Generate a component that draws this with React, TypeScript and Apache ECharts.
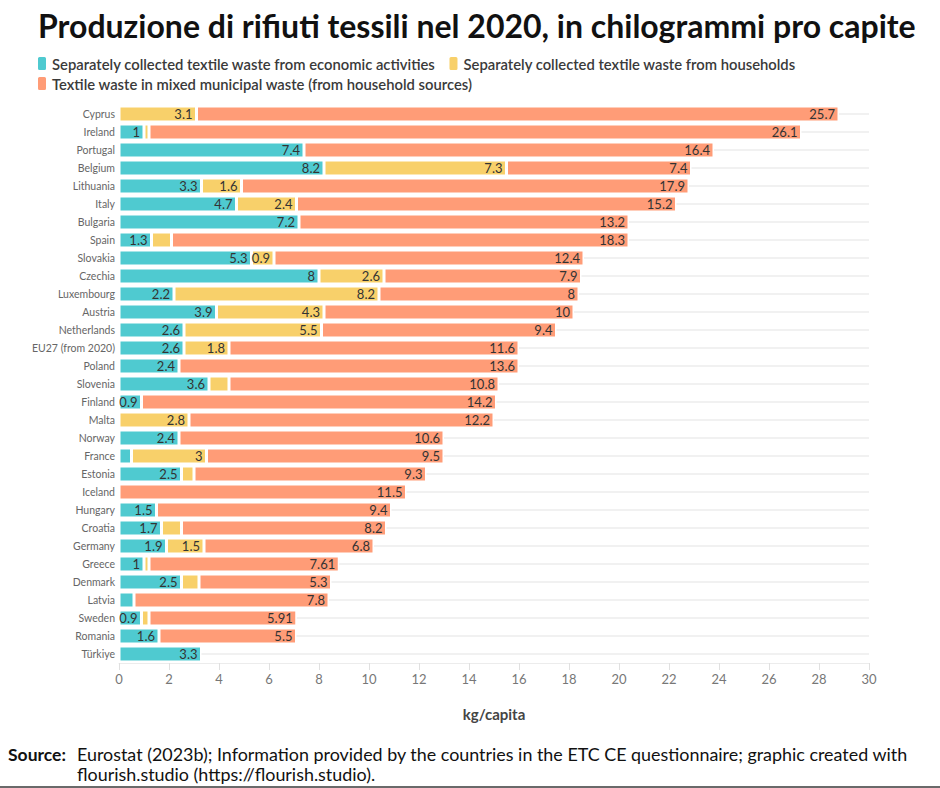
import React, { useEffect, useRef } from "react";
import * as echarts from "echarts";

const countries = [
  "Cyprus", "Ireland", "Portugal", "Belgium", "Lithuania", "Italy", "Bulgaria", "Spain",
  "Slovakia", "Czechia", "Luxembourg", "Austria", "Netherlands", "EU27 (from 2020)", "Poland",
  "Slovenia", "Finland", "Malta", "Norway", "France", "Estonia", "Iceland", "Hungary",
  "Croatia", "Germany", "Greece", "Denmark", "Latvia", "Sweden", "Romania", "Türkiye",
];

const economic = [
  null, 1, 7.4, 8.2, 3.3, 4.7, 7.2, 1.3, 5.3, 8, 2.2, 3.9, 2.6, 2.6, 2.4, 3.6, 0.9, null,
  2.4, 0.5, 2.5, null, 1.5, 1.7, 1.9, 1, 2.5, 0.6, 0.9, 1.6, 3.3,
];

const households = [
  3.1, 0.2, null, 7.3, 1.6, 2.4, null, 0.8, 0.9, 2.6, 8.2, 4.3, 5.5, 1.8, null, 0.8, null,
  2.8, null, 3, 0.5, null, null, 0.8, 1.5, 0.2, 0.7, null, 0.3, null, null,
];

const mixed = [
  25.7, 26.1, 16.4, 7.4, 17.9, 15.2, 13.2, 18.3, 12.4, 7.9, 8, 10, 9.4, 11.6, 13.6, 10.8,
  14.2, 12.2, 10.6, 9.5, 9.3, 11.5, 9.4, 8.2, 6.8, 7.61, 5.3, 7.8, 5.91, 5.5, null,
];

const seriesNames = [
  "Separately collected textile waste from economic activities",
  "Separately collected textile waste from households",
  "Textile waste in mixed municipal waste (from household sources)",
];
const colors = ["#4fcad0", "#f8d06a", "#ff9c77"];

const titleText = "Produzione di rifiuti tessili nel 2020, in chilogrammi pro capite";
const axisName = "kg/capita";
const sourceLine1 = "Eurostat (2023b); Information provided by the countries in the ETC CE questionnaire; graphic created with";
const sourceLine2 = "flourish.studio (https://flourish.studio).";

export default function App() {
  const ref = useRef<HTMLDivElement>(null);
  useEffect(() => {
    if (!ref.current) return;
    const chart = echarts.init(ref.current, null, { renderer: "svg" });
    const data = [economic, households, mixed];
    const legendText = { fontFamily: "Lato", fontSize: 14.8, fontWeight: 600, color: "#3a3a3a" };
    chart.setOption({
      animation: false,
      backgroundColor: "#ffffff",
      textStyle: { fontFamily: "Lato" },
      legend: [
        {
          data: [seriesNames[0], seriesNames[1]],
          left: 36, top: 55, icon: "roundRect", itemWidth: 10, itemHeight: 15, itemGap: 12,
          textStyle: legendText, selectedMode: false, padding: 0,
        },
        {
          data: [seriesNames[2]],
          left: 36, top: 75, icon: "roundRect", itemWidth: 10, itemHeight: 15,
          textStyle: legendText, selectedMode: false, padding: 0,
        },
      ],
      grid: { left: 119, right: 71, top: 105, height: 558, containLabel: false },
      xAxis: {
        type: "value", min: 0, max: 30, interval: 2,
        name: axisName, nameLocation: "middle", nameGap: 43,
        nameTextStyle: { fontFamily: "Lato", fontWeight: "bold", fontSize: 15, color: "#444" },
        axisLine: { show: true, lineStyle: { color: "#ececec" } },
        axisTick: { show: true, length: 7, lineStyle: { color: "#e0e0e0" } },
        axisLabel: { color: "#777", fontSize: 13, margin: 9 },
        splitLine: { show: false },
      },
      yAxis: {
        type: "category", data: countries, inverse: true,
        axisLine: { show: false }, axisTick: { show: false },
        axisLabel: { color: "#666", fontSize: 10.5, margin: 4 },
        splitLine: { show: true, alignWithLabel: true, lineStyle: { color: "#ececec", width: 1.5 } },
      },
      series: data.map((d, i) => ({
        name: seriesNames[i],
        type: "bar",
        stack: "total",
        data: d,
        barWidth: 16,
        itemStyle: { color: colors[i], borderColor: "#ffffff", borderWidth: 1.5 },
        label: {
          show: true, position: "insideRight", color: "#333", fontSize: 13, distance: 4,
          formatter: (p: any) => (p.value != null && p.value >= 0.9 ? String(p.value) : ""),
        },
      })),
      graphic: [
        {
          type: "text", left: 38, top: 9,
          style: { text: titleText, font: "bold 32px Lato", fill: "#111" },
        },
        {
          type: "text", left: 8, top: 745,
          style: { text: "Source:", font: "bold 17.5px Lato", fill: "#111" },
        },
        {
          type: "text", left: 77, top: 745,
          style: { text: sourceLine1, font: "17.9px Lato", fill: "#111" },
        },
        {
          type: "text", left: 77, top: 765,
          style: { text: sourceLine2, font: "17.9px Lato", fill: "#111" },
        },
        {
          type: "rect", left: 0, top: 786, shape: { width: 940, height: 2 },
          style: { fill: "#6a6a6a" },
        },
      ],
    });
    return () => chart.dispose();
  }, []);
  return (
    <div
      ref={ref}
      style={{ position: "fixed", left: 0, top: 0, width: 940, height: 788, background: "#fff" }}
    />
  );
}
